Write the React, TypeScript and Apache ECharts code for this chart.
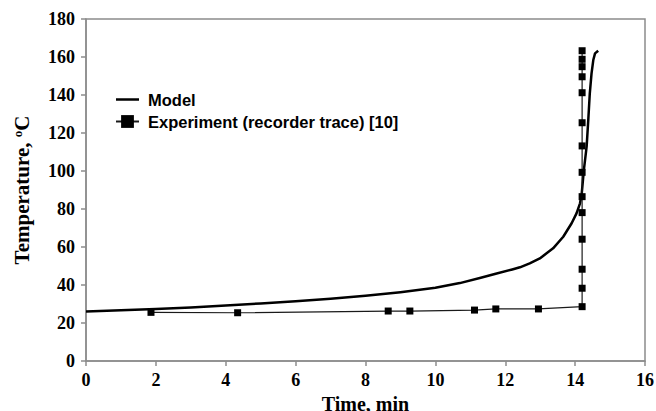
import React, { useEffect, useRef } from "react";
import * as echarts from "echarts";

const modelTime = [0, 1, 2, 3, 4, 5, 6, 7, 8, 9, 10, 10.7, 11.3, 11.7, 12.2, 12.42, 12.7, 12.99, 13.37, 13.66, 13.9, 14.04, 14.14, 14.19, 14.25, 14.33, 14.38, 14.42, 14.47, 14.52, 14.57, 14.66];
const modelTemp = [26, 26.7, 27.4, 28.2, 29.2, 30.3, 31.4, 32.7, 34.3, 36.2, 38.5, 41, 43.8, 45.8, 48.2, 49.3, 51.4, 54, 59.3, 65.4, 72.5, 77.7, 83, 88.3, 100.5, 113, 128, 140.9, 151.4, 158.4, 161.9, 163.3];

const expTime = [1.86, 4.34, 8.65, 9.27, 11.12, 11.73, 12.95, 14.2, 14.2, 14.2, 14.2, 14.2, 14.2, 14.2, 14.2, 14.2, 14.2, 14.2, 14.2, 14.2, 14.2];
const expTemp = [25.6, 25.4, 26.3, 26.3, 26.8, 27.4, 27.4, 28.6, 38.3, 48.3, 64.1, 78.1, 86.5, 99.3, 113.2, 125.4, 141.2, 149.6, 154.9, 158.8, 163.3];

const xTicks = { min: 0, max: 16, interval: 2 };
const yTicks = { min: 0, max: 180, interval: 20 };

const serif = "Liberation Serif";
const sans = "Liberation Sans";

export default function App() {
  const ref = useRef<HTMLDivElement>(null);
  useEffect(() => {
    if (!ref.current) return;
    const chart = echarts.init(ref.current, undefined, { renderer: "svg" });
    const axisGray = "#8c8c8c";
    chart.setOption({
      animation: false,
      backgroundColor: "#ffffff",
      grid: {
        left: 86,
        right: 11,
        top: 19,
        bottom: 50,
        containLabel: false,
        outerBoundsMode: "none",
        show: true,
        borderColor: axisGray,
        borderWidth: 1.5,
        backgroundColor: "transparent",
      },
      legend: {
        show: true,
        orient: "vertical",
        left: 115,
        top: 91,
        padding: 0,
        itemWidth: 23,
        itemHeight: 16,
        itemGap: 5,
        textStyle: {
          fontFamily: sans,
          fontWeight: "bold",
          fontSize: 16.5,
          color: "#000",
          padding: [0, 0, 0, 4],
        },
        data: [
          { name: "Model", icon: "path://M0,0 L46,0 L46,5 L0,5 Z" },
          { name: "Experiment (recorder trace) [10]" },
        ],
      },
      xAxis: {
        type: "value",
        min: xTicks.min,
        max: xTicks.max,
        interval: xTicks.interval,
        name: "Time, min",
        nameLocation: "middle",
        nameGap: 27,
        nameTextStyle: { fontFamily: serif, fontWeight: "bold", fontSize: 20, color: "#000" },
        splitLine: { show: false },
        axisLine: { show: true, lineStyle: { color: axisGray, width: 1.5 } },
        axisTick: { show: true, inside: false, length: 5, lineStyle: { color: axisGray, width: 1.5 } },
        axisLabel: {
          show: true,
          margin: 10,
          color: "#000000",
          fontFamily: serif,
          fontWeight: "bold",
          fontSize: 18,
        },
      },
      yAxis: {
        type: "value",
        min: yTicks.min,
        max: yTicks.max,
        interval: yTicks.interval,
        name: "Temperature, {sup|o}C",
        nameLocation: "middle",
        nameGap: 53,
        nameRotate: 90,
        nameTextStyle: {
          fontFamily: serif,
          fontWeight: "bold",
          fontSize: 21,
          color: "#000",
          rich: {
            sup: {
              fontFamily: serif,
              fontWeight: "bold",
              fontSize: 13,
              color: "#000",
              verticalAlign: "bottom",
              padding: [0, 0, 9, 0],
            },
          },
        },
        splitLine: { show: false },
        axisLine: { show: true, lineStyle: { color: axisGray, width: 1.5 } },
        axisTick: { show: true, inside: false, length: 5, lineStyle: { color: axisGray, width: 1.5 } },
        axisLabel: {
          show: true,
          margin: 11,
          color: "#000000",
          fontFamily: serif,
          fontWeight: "bold",
          fontSize: 18,
        },
      },
      series: [
        {
          name: "Model",
          type: "line",
          symbol: "none",
          smooth: false,
          lineStyle: { color: "#000", width: 2.5, join: "round" },
          itemStyle: { color: "#000" },
          data: modelTime.map((t, i) => [t, modelTemp[i]]),
          z: 2,
        },
        {
          name: "Experiment (recorder trace) [10]",
          type: "line",
          symbol: "rect",
          symbolSize: 7,
          showAllSymbol: true,
          lineStyle: { color: "#1a1a1a", width: 1.2 },
          itemStyle: { color: "#000" },
          data: expTime.map((t, i) => [t, expTemp[i]]),
          z: 3,
        },
      ],
    });
    return () => chart.dispose();
  }, []);
  return <div ref={ref} style={{ width: 656, height: 411, position: "absolute", left: 0, top: 0 }} />;
}
